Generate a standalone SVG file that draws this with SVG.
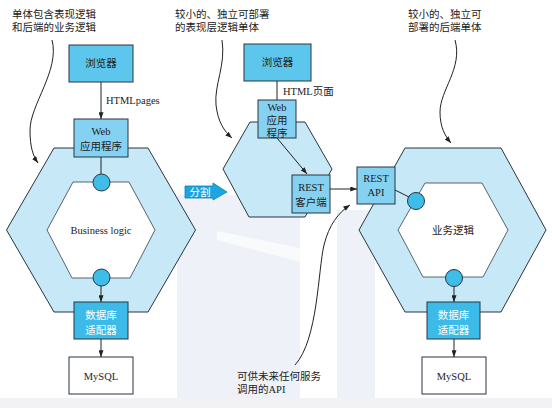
<svg xmlns="http://www.w3.org/2000/svg" width="552" height="408" viewBox="0 0 552 408">
<defs>
<marker id="ah" viewBox="0 0 8 6" refX="8" refY="3" markerWidth="7" markerHeight="5" orient="auto" markerUnits="userSpaceOnUse"><path d="M0,0 L8,3 L0,6 Z" fill="#222"/></marker>
<style>
.t{font-family:"Liberation Serif","Noto Sans CJK SC",serif;font-size:10.5px;fill:#222;text-anchor:middle}
.tl{font-family:"Liberation Serif","Noto Sans CJK SC",serif;font-size:10.5px;fill:#222}
.tw{font-family:"Noto Sans CJK SC","Liberation Sans",sans-serif;font-size:10.5px;fill:#fff;text-anchor:middle}
.bx{stroke:#2b3440;stroke-width:1}
.br{fill:#5cc6ec}
.wb{fill:#84d1f1}
.db{fill:#3cbbe9}
.my{fill:#fff}
.hx{fill:#c7e8f7;stroke:#2b3440;stroke-width:1}
.hi{fill:#fff;stroke:#5a6470;stroke-width:1}
.ci{fill:#3ebde9;stroke:#2b3440;stroke-width:1}
.ln{stroke:#222;stroke-width:1;fill:none}
</style>
</defs>
<rect width="552" height="408" fill="#fff"/>
<g id="watermark">
<path d="M177,195 L300,195 L300,398 L177,398 Z" fill="#eef2f8"/>
<path d="M337,210 L375,210 L375,398 L337,398 Z" fill="#eef2f8"/>
<path d="M217,231 L300,248 L300,262 L217,240 Z" fill="#f8fafc"/>
<rect x="0" y="398" width="552" height="10" fill="#f2f2f4"/>
</g>

<g id="left-mono">
<polygon class="hx" points="54,148 148,148 195.5,230 148,312 54,312 6.5,230"/>
<polygon class="hi" points="73,182 129,182 155,230 130,278 72,278 47,230"/>
<text class="t" x="101" y="234">Business logic</text>
</g>
<g id="left-browser"><rect class="bx br" x="69" y="45" width="64" height="37"/><text class="t" x="101" y="67">浏览器</text></g>
<g id="left-web"><rect class="bx wb" x="74" y="119" width="54" height="38"/><text class="t" x="101" y="135">Web</text><text class="t" x="101" y="150">应用程序</text></g>
<g id="left-c1"><circle class="ci" cx="101.5" cy="182.5" r="8.5"/></g>
<g id="left-c2"><circle class="ci" cx="101.5" cy="277.5" r="8.5"/></g>
<g id="left-db"><rect class="bx db" x="74" y="302" width="54" height="37"/><text class="tw" x="101" y="319">数据库</text><text class="tw" x="101" y="334">适配器</text></g>
<g id="left-mysql"><rect class="bx my" x="69" y="357" width="64" height="37"/><text class="t" x="101" y="380">MySQL</text></g>

<g id="mid-hex"><polygon class="hx" points="250,122 305,122 332,169 305,217 249,217 223,169"/></g>
<g id="mid-browser"><rect class="bx br" x="244" y="44" width="67" height="37"/><text class="t" x="277.5" y="66">浏览器</text></g>
<g id="mid-web"><rect class="bx wb" x="258" y="100" width="38" height="38"/><text class="t" x="277" y="111">Web</text><text class="t" x="277" y="124">应用</text><text class="t" x="277" y="137">程序</text></g>
<g id="mid-rest"><rect class="bx wb" x="292" y="175" width="38" height="38"/><text class="t" x="311" y="191">REST</text><text class="t" x="311" y="206">客户端</text></g>

<g id="split"><path d="M185,186 L213,186 L213,183 L227,192 L213,200 L213,198 L185,198 Z" fill="#1ba6df" stroke="#0f7fb5" stroke-width="0.8"/><text class="tw" x="200" y="196">分割</text></g>

<g id="right-mono">
<polygon class="hx" points="405,148 501,148 546,230 501,312 405,312 359,230"/>
<polygon class="hi" points="425,183 482,183 508,230 483,277 423,277 398,230"/>
<text class="t" x="453" y="234">业务逻辑</text>
</g>
<g id="right-api"><rect class="bx wb" x="357" y="167" width="38" height="37"/><text class="t" x="376" y="182">REST</text><text class="t" x="376" y="196">API</text></g>
<g id="right-c1"><circle class="ci" cx="416" cy="201" r="8.5"/></g>
<g id="right-c2"><circle class="ci" cx="454" cy="278" r="8.5"/></g>
<g id="right-db"><rect class="bx db" x="427" y="302" width="53" height="37"/><text class="tw" x="453.5" y="319">数据库</text><text class="tw" x="453.5" y="334">适配器</text></g>
<g id="right-mysql"><rect class="bx my" x="422" y="357" width="64" height="37"/><text class="t" x="454" y="380">MySQL</text></g>

<g id="connectors">
<line class="ln" x1="101" y1="82" x2="101" y2="119" marker-end="url(#ah)"/>
<line class="ln" x1="101" y1="157" x2="101" y2="174"/>
<line class="ln" x1="101" y1="286" x2="101" y2="302" marker-end="url(#ah)"/>
<line class="ln" x1="101" y1="339" x2="101" y2="357" marker-end="url(#ah)"/>
<line class="ln" x1="277" y1="81" x2="277" y2="100"/>
<line class="ln" x1="277" y1="138" x2="307" y2="174" marker-end="url(#ah)"/>
<line class="ln" x1="330" y1="189" x2="357" y2="189" marker-end="url(#ah)"/>
<line class="ln" x1="395" y1="190" x2="409" y2="197"/>
<line class="ln" x1="454" y1="287" x2="454" y2="302" marker-end="url(#ah)"/>
<line class="ln" x1="454" y1="339" x2="454" y2="357" marker-end="url(#ah)"/>
<path class="ln" d="M52,40 C60,70 30,105 30,130 C30,147 33,156 38,163" marker-end="url(#ah)"/>
<path class="ln" d="M222,40 C226,65 214,85 216,105 C218,122 224,131 232,138" marker-end="url(#ah)"/>
<path class="ln" d="M455,40 C463,68 440,90 440,112 C440,127 445,136 451,143" marker-end="url(#ah)"/>
<path class="ln" d="M295,365 C318,340 318,270 324,245 C329,225 338,213 350,205" marker-end="url(#ah)"/>
</g>

<g id="labels">
<text class="tl" x="12" y="18">单体包含表现逻辑</text>
<text class="tl" x="12" y="31">和后端的业务逻辑</text>
<text class="tl" x="106" y="104">HTMLpages</text>
<text class="tl" x="175" y="18">较小的、独立可部署</text>
<text class="tl" x="175" y="31">的表现层逻辑单体</text>
<text class="tl" x="283" y="95">HTML页面</text>
<text class="tl" x="408" y="18">较小的、独立可</text>
<text class="tl" x="408" y="31">部署的后端单体</text>
<text class="tl" x="237" y="380">可供未来任何服务</text>
<text class="tl" x="237" y="393">调用的API</text>
</g>
</svg>
